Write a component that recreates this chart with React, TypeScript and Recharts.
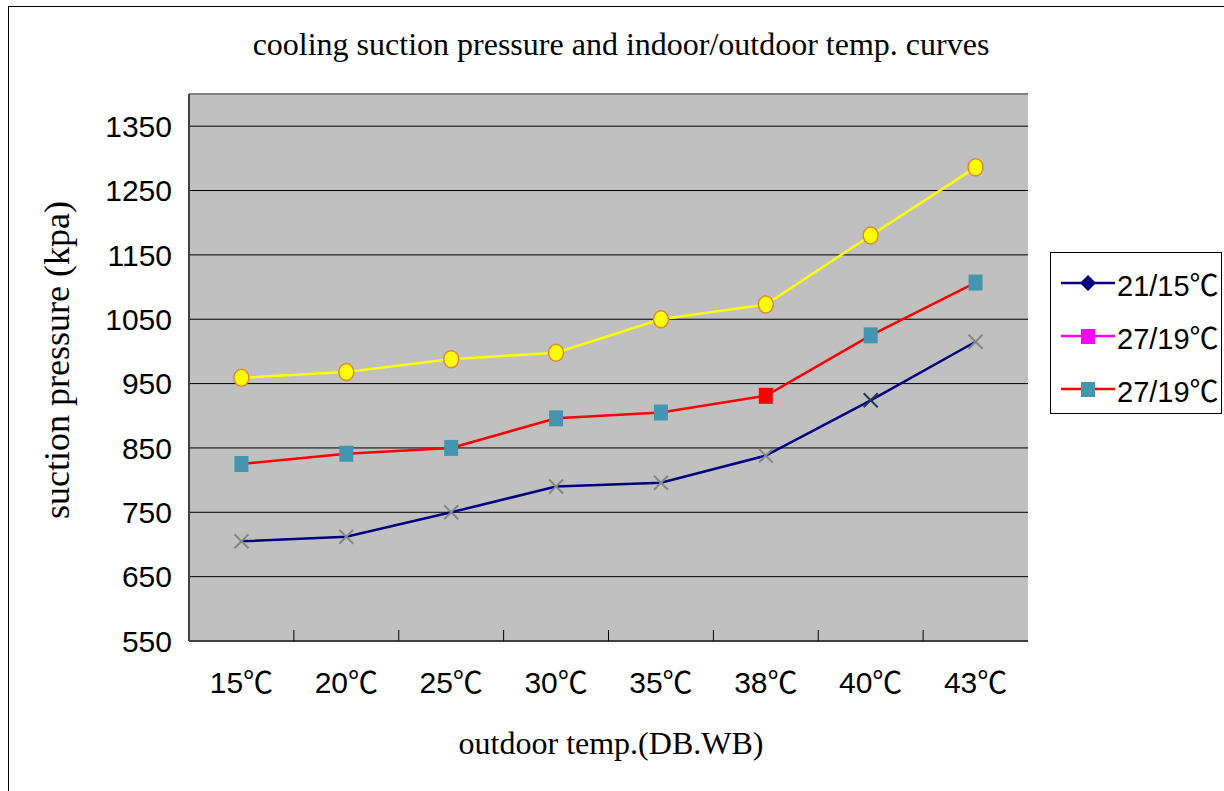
import React from 'react';
import { LineChart, Line, XAxis, YAxis, CartesianGrid, Legend, ReferenceLine } from 'recharts';

const categories = ['15℃', '20℃', '25℃', '30℃', '35℃', '38℃', '40℃', '43℃'];
const indoor2115 = [705, 712, 750, 790, 796, 838, 924, 1015];
const indoor2719a = [959, 968, 988, 998, 1050, 1073, 1180, 1286];
const indoor2719b = [825, 841, 850, 896, 905, 931, 1025, 1107];
const yTicks = [550, 650, 750, 850, 950, 1050, 1150, 1250, 1350];

const data = categories.map((temp, i) => ({
    temp,
    a: indoor2115[i],
    b: indoor2719a[i],
    c: indoor2719b[i],
}));

const sans = '"Liberation Sans", "Noto Sans CJK SC", Arial, sans-serif';
const serif = '"Liberation Serif", "Times New Roman", serif';
const X_TICK_GAP = 31; // tickSize + tickMargin of the category axis

const CrossDot = (props: any) => {
    const { cx, cy, index } = props;
    const col = index === 6 ? '#22384f' : '#858585';
    return (
        <g key={`x-${index}`}>
            <line x1={cx - 7} y1={cy - 7} x2={cx + 7} y2={cy + 7} stroke={col} strokeWidth={2} />
            <line x1={cx - 7} y1={cy + 7} x2={cx + 7} y2={cy - 7} stroke={col} strokeWidth={2} />
        </g>
    );
};

const CircleDot = (props: any) => {
    const { cx, cy, index } = props;
    return <ellipse key={`o-${index}`} cx={cx} cy={cy} rx={7.5} ry={8.5} fill="#ffff00" stroke="#e0883a" strokeWidth={1.5} />;
};

const SquareDot = (props: any) => {
    const { cx, cy, index } = props;
    return <rect key={`s-${index}`} x={cx - 7} y={cy - 8} width={14} height={16} fill={index === 5 ? '#ff0000' : '#4496b0'} />;
};

// category label plus the small inward mark on the boundary to its right
const TempTick = (props: any) => {
    const { x, y, payload, index } = props;
    const half = payload && payload.offset ? payload.offset : 52.4;
    const axisY = y - X_TICK_GAP;
    return (
        <g>
            {index < categories.length - 1 && (
                <line x1={x + half} y1={axisY} x2={x + half} y2={axisY - 11} stroke="#000" strokeWidth={1} />
            )}
            <text x={x} y={y} dy="0.71em" textAnchor="middle" fontFamily={sans} fontSize={30} fill="#000">
                {payload.value}
            </text>
        </g>
    );
};

const legendIcons = [
    { line: '#000080', shape: 'diamond', fill: '#000080' },
    { line: '#ff00ff', shape: 'square', fill: '#ff00ff' },
    { line: '#ff0000', shape: 'square', fill: '#4496b0' },
];

const renderLegend = (props: any) => {
    const { payload } = props;
    return (
        <div style={{ border: '1px solid #000', width: 172, height: 162, boxSizing: 'border-box', paddingTop: 3, background: '#fff' }}>
            {payload.map((entry: any, i: number) => {
                const ic = legendIcons[i];
                return (
                    <div key={i} style={{ display: 'flex', alignItems: 'center', height: 53 }}>
                        <svg width={66} height={20} style={{ marginLeft: 10, flexShrink: 0 }}>
                            <line x1={0} y1={10} x2={54} y2={10} stroke={ic.line} strokeWidth={2.5} />
                            {ic.shape === 'diamond' ? (
                                <polygon points="27,2 35,10 27,18 19,10" fill={ic.fill} />
                            ) : (
                                <rect x={20} y={3} width={14} height={15} fill={ic.fill} />
                            )}
                        </svg>
                        <span style={{ fontFamily: sans, fontSize: 29, color: '#000', marginLeft: -10, whiteSpace: 'nowrap' }}>{entry.value}</span>
                    </div>
                );
            })}
        </div>
    );
};

export default function App() {
    return (
        <div style={{ position: 'absolute', left: 0, top: 0, width: 1224, height: 791, background: '#fff', overflow: 'hidden' }}>
            <div style={{ position: 'absolute', left: 8, top: 6, width: 1230, height: 790, border: '1px solid #000', boxSizing: 'border-box' }} />
            <div style={{ position: 'absolute', left: 0, top: 26, width: 1242, textAlign: 'center', fontFamily: serif, fontSize: 32, color: '#000' }}>
                cooling suction pressure and indoor/outdoor temp. curves
            </div>
            <div style={{ position: 'absolute', left: 0, top: 725, width: 1222, textAlign: 'center', fontFamily: serif, fontSize: 32, color: '#000' }}>
                outdoor temp.(DB.WB)
            </div>
            <div
                style={{
                    position: 'absolute', left: 57, top: 360, transform: 'translate(-50%, -50%) rotate(-90deg)',
                    whiteSpace: 'nowrap', fontFamily: serif, fontSize: 36, color: '#000',
                }}
            >
                suction pressure (kpa)
            </div>
            <div style={{ position: 'absolute', left: 0, top: 0 }}>
                <LineChart width={1224} height={791} data={data} margin={{ top: 94, right: 196, bottom: 0, left: 0 }}>
                    <CartesianGrid vertical={false} stroke="#000" strokeWidth={1} fill="#c0c0c0" fillOpacity={1} />
                    <XAxis
                        dataKey="temp"
                        scale="band"
                        height={150}
                        axisLine={{ stroke: '#404040', strokeWidth: 2 }}
                        tickLine={false}
                        tickSize={6}
                        tickMargin={25}
                        tick={TempTick}
                        interval={0}
                    />
                    <YAxis
                        domain={[550, 1400]}
                        ticks={yTicks}
                        width={189}
                        axisLine={{ stroke: '#404040', strokeWidth: 2 }}
                        tickLine={false}
                        tickSize={6}
                        tickMargin={11}
                        tick={{ fontFamily: sans, fontSize: 30, fill: '#000' }}
                        interval={0}
                    />
                    <YAxis yAxisId="border" orientation="right" width={0} domain={[0, 1]} tick={false} tickLine={false} axisLine={{ stroke: '#808080', strokeWidth: 2 }} />
                    <ReferenceLine y={1400} stroke="#808080" strokeWidth={2} />
                    <Legend
                        content={renderLegend}
                        layout="vertical"
                        align="center"
                        verticalAlign="middle"
                        wrapperStyle={{ position: 'absolute', left: 1050, top: 252, width: 172, height: 162 }}
                    />
                    <Line dataKey="a" name="21/15℃" stroke="#000080" strokeWidth={2.5} dot={CrossDot} activeDot={false} isAnimationActive={false} />
                    <Line dataKey="b" name="27/19℃" stroke="#ffff00" strokeWidth={2.5} dot={CircleDot} activeDot={false} isAnimationActive={false} />
                    <Line dataKey="c" name="27/19℃" stroke="#ff0000" strokeWidth={2.5} dot={SquareDot} activeDot={false} isAnimationActive={false} />
                </LineChart>
            </div>
        </div>
    );
}
